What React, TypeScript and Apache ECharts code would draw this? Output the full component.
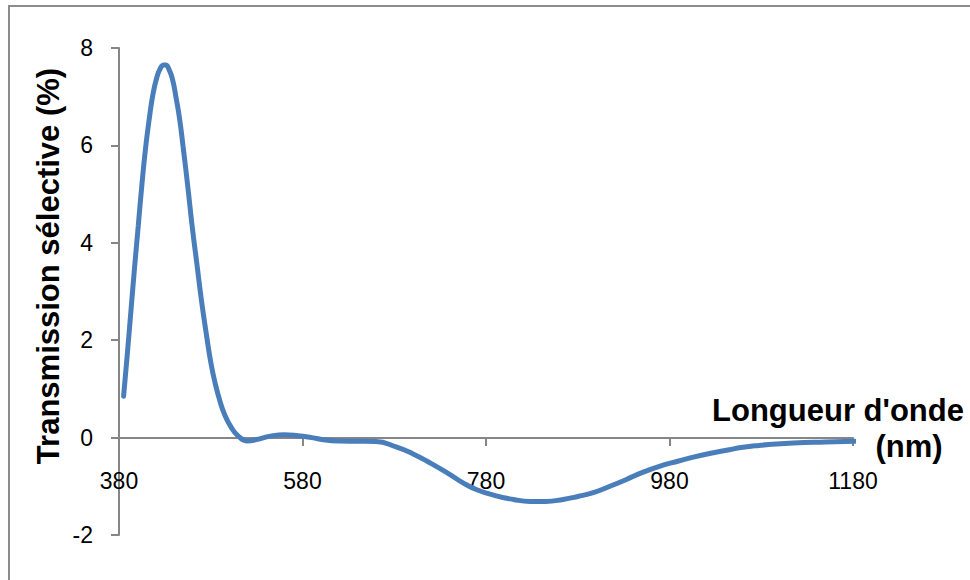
import React, { useEffect, useRef } from "react";
import * as echarts from "echarts";

const wavelengths = [385, 389, 393, 397, 401, 405, 409, 413, 417, 421, 425, 429, 431, 434, 438, 442, 446, 450, 455, 460, 465, 470, 475, 480, 485, 490, 495, 502, 510, 520, 530, 545, 560, 575, 590, 605, 620, 640, 660, 682, 700, 720, 740, 755, 770, 790, 810, 828, 845, 864, 880, 897, 915, 933, 950, 969, 990, 1006, 1025, 1042, 1060, 1078, 1096, 1115, 1150, 1182];
const transmission = [0.85, 1.7, 2.6, 3.5, 4.35, 5.2, 5.95, 6.55, 7.05, 7.38, 7.58, 7.65, 7.65, 7.58, 7.38, 7.0, 6.55, 5.95, 5.15, 4.3, 3.55, 2.8, 2.15, 1.55, 1.1, 0.75, 0.48, 0.22, 0.03, -0.07, -0.04, 0.03, 0.06, 0.04, 0.0, -0.05, -0.07, -0.075, -0.08, -0.19, -0.33, -0.53, -0.75, -0.93, -1.07, -1.19, -1.27, -1.31, -1.31, -1.27, -1.21, -1.13, -1.0, -0.86, -0.72, -0.59, -0.48, -0.4, -0.32, -0.26, -0.2, -0.16, -0.13, -0.11, -0.09, -0.075];
const xTicks = [380, 580, 780, 980, 1180];
const yTitle = "Transmission sélective (%)";
const xTitleLine1 = "Longueur d'onde";
const xTitleLine2 = "(nm)";

const FONT = "'Liberation Sans', Arial, sans-serif";

export default function App() {
  const ref = useRef<HTMLDivElement>(null);
  useEffect(() => {
    if (!ref.current) return;
    const chart = echarts.init(ref.current, null, { renderer: "svg" });
    chart.setOption({
      animation: false,
      backgroundColor: "#ffffff",
      grid: { left: 119, right: 117, top: 48, bottom: 45, containLabel: false, outerBoundsMode: "none" },
      xAxis: {
        type: "value",
        min: 380,
        max: 1180,
        offset: -97,
        axisLine: { onZero: false, lineStyle: { color: "#868686", width: 2 } },
        axisTick: { show: true, length: 8, customValues: xTicks, lineStyle: { color: "#868686", width: 2 } },
        axisLabel: {
          customValues: xTicks,
          margin: 31,
          color: "#000",
          fontSize: 23,
          fontFamily: FONT,
          formatter: (v: number) => String(v),
        },
        splitLine: { show: false },
      },
      yAxis: {
        type: "value",
        min: -2,
        max: 8,
        interval: 2,
        axisLine: { show: true, lineStyle: { color: "#868686", width: 2 } },
        axisTick: { show: true, length: 8, lineStyle: { color: "#868686", width: 2 } },
        axisLabel: { margin: 26, color: "#000", fontSize: 23, fontFamily: FONT },
        splitLine: { show: false },
      },
      series: [
        {
          type: "line",
          data: wavelengths.map((w, i) => [w, transmission[i]]),
          smooth: 0.5,
          showSymbol: false,
          lineStyle: { color: "#4a7ebb", width: 5, cap: "round" },
        },
      ],
      graphic: [
        {
          type: "rect",
          shape: { x: 9, y: 6, width: 1200, height: 1200 },
          style: { fill: "none", stroke: "#8c8c8c", lineWidth: 2 },
          silent: true,
        },
        {
          type: "text",
          x: 48,
          y: 266,
          rotation: Math.PI / 2,
          style: { text: yTitle, font: `bold 31px ${FONT}`, fill: "#000", align: "center", verticalAlign: "middle" },
        },
        {
          type: "text",
          x: 838,
          y: 410,
          style: { text: xTitleLine1, font: `bold 31px ${FONT}`, fill: "#000", align: "center", verticalAlign: "middle" },
        },
        {
          type: "text",
          x: 909,
          y: 446,
          style: { text: xTitleLine2, font: `bold 31px ${FONT}`, fill: "#000", align: "center", verticalAlign: "middle" },
        },
      ],
    });
    return () => chart.dispose();
  }, []);
  return <div ref={ref} style={{ position: "fixed", left: 0, top: 0, width: 970, height: 580 }} />;
}
